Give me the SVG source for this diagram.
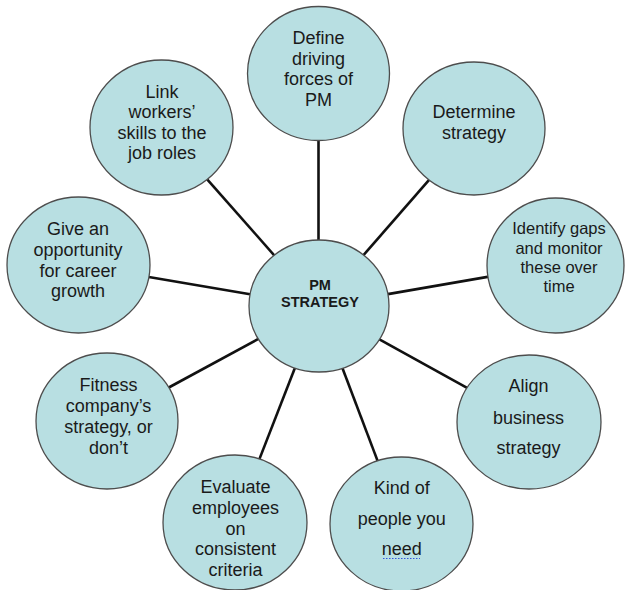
<svg xmlns="http://www.w3.org/2000/svg" width="625" height="590" viewBox="0 0 625 590">
<style>
.n{fill:#b8dfe2;stroke:#4d4d4d;stroke-width:1.3}
.t{font-family:"Liberation Sans",Arial,sans-serif;font-size:18px;fill:#1a1a1a;text-anchor:middle}
.s{font-size:16.5px}
.b{font-weight:bold;font-size:14.5px}
.c line{stroke:#111;stroke-width:2.6}
</style>
<rect width="625" height="590" fill="#fff"/>
<g id="connectors" class="c">
<line x1="318.5" y1="240" x2="318.5" y2="140"/>
<line x1="363.5" y1="255.1" x2="429.1" y2="179.9"/>
<line x1="387.9" y1="294.1" x2="489" y2="276.6"/>
<line x1="379.4" y1="339.4" x2="467.1" y2="387.8"/>
<line x1="342.5" y1="368.2" x2="377.6" y2="460.9"/>
<line x1="294.9" y1="368" x2="259.4" y2="459.1"/>
<line x1="258.4" y1="338.9" x2="168.8" y2="387.5"/>
<line x1="250.1" y1="294.3" x2="148.8" y2="277"/>
<line x1="274.2" y1="255.3" x2="207.2" y2="179.3"/>
</g>
<g id="center">
<ellipse class="n" cx="319" cy="306" rx="70" ry="66"/>
<text class="t b" x="320" y="290">PM</text>
<text class="t b" x="320" y="307">STRATEGY</text>
</g>
<g id="define">
<ellipse class="n" cx="318.5" cy="73.5" rx="71" ry="67"/>
<text class="t" x="318.5" y="44">Define</text>
<text class="t" x="318.5" y="64.5">driving</text>
<text class="t" x="318.5" y="85">forces of</text>
<text class="t" x="318.5" y="105.5">PM</text>
</g>
<g id="determine">
<ellipse class="n" cx="474" cy="128.5" rx="71" ry="66.5"/>
<text class="t" x="474" y="118">Determine</text>
<text class="t" x="474" y="139">strategy</text>
</g>
<g id="identify">
<ellipse class="n" cx="555.5" cy="265.5" rx="68.5" ry="67.5"/>
<text class="t s" x="559" y="234">Identify gaps</text>
<text class="t s" x="559" y="254">and monitor</text>
<text class="t s" x="559" y="273">these over</text>
<text class="t s" x="559" y="292">time</text>
</g>
<g id="align">
<ellipse class="n" cx="529" cy="422" rx="72" ry="67"/>
<text class="t" x="528.5" y="392">Align</text>
<text class="t" x="528.5" y="423.5">business</text>
<text class="t" x="528.5" y="454">strategy</text>
</g>
<g id="kind">
<ellipse class="n" cx="401.5" cy="524" rx="71.5" ry="67"/>
<text class="t" x="401.7" y="494">Kind of</text>
<text class="t" x="401.7" y="525">people you</text>
<text class="t" x="401.7" y="555">need</text>
<path d="M383 558.5H420" stroke="#3355dd" stroke-width="1" stroke-dasharray="1.5 1.5" fill="none"/>
</g>
<g id="evaluate">
<ellipse class="n" cx="235" cy="522.5" rx="72" ry="67.5"/>
<text class="t" x="235.5" y="493">Evaluate</text>
<text class="t" x="235.5" y="514">employees</text>
<text class="t" x="235.5" y="534.5">on</text>
<text class="t" x="235.5" y="555">consistent</text>
<text class="t" x="235.5" y="576">criteria</text>
</g>
<g id="fitness">
<ellipse class="n" cx="107" cy="421" rx="71" ry="68"/>
<text class="t" x="108.5" y="391">Fitness</text>
<text class="t" x="108.5" y="412">company’s</text>
<text class="t" x="108.5" y="433">strategy, or</text>
<text class="t" x="108.5" y="454">don’t</text>
</g>
<g id="give">
<ellipse class="n" cx="78.5" cy="265" rx="71.5" ry="68"/>
<text class="t" x="78" y="235">Give an</text>
<text class="t" x="78" y="256">opportunity</text>
<text class="t" x="78" y="276.5">for career</text>
<text class="t" x="78" y="297">growth</text>
</g>
<g id="link">
<ellipse class="n" cx="161.5" cy="127.5" rx="71.5" ry="67.5"/>
<text class="t" x="162" y="98">Link</text>
<text class="t" x="162" y="118">workers’</text>
<text class="t" x="162" y="138.5">skills to the</text>
<text class="t" x="162" y="159">job roles</text>
</g>
</svg>
